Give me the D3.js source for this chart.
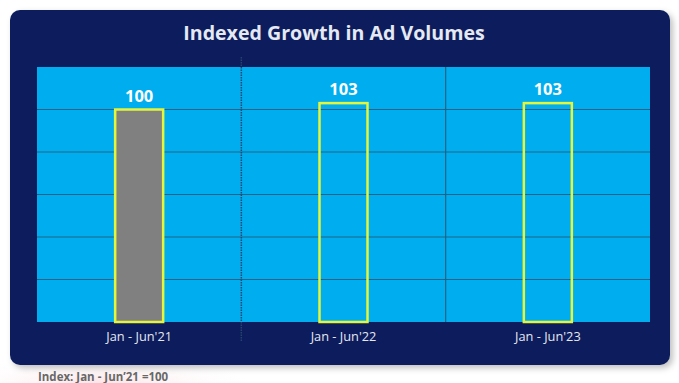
<!DOCTYPE html>
<html>
<head>
<meta charset="utf-8">
<script src="https://cdn.jsdelivr.net/npm/d3@7"></script>
<style>
  html, body { margin: 0; padding: 0; background: #ffffff; }
  svg { display: block; font-family: "Open Sans", sans-serif; }
</style>
</head>
<body>
<div id="chart"></div>
<script>
// data
const periods = ["Jan - Jun'21", "Jan - Jun'22", "Jan - Jun'23"];
const indexValues = [100, 103, 103];
const yTicks = [0, 20, 40, 60, 80, 100, 120];

const width = 679;
const height = 383;
const plot = { left: 37, right: 650, top: 67, bottom: 322 };

const svg = d3.select("#chart")
    .append("svg")
    .attr("width", width)
    .attr("height", height);

const defs = svg.append("defs");
const grad = defs.append("radialGradient").attr("id", "pink");
grad.append("stop").attr("offset", "0%").attr("stop-color", "#fbe1e4");
grad.append("stop").attr("offset", "100%").attr("stop-color", "#ffffff").attr("stop-opacity", 0);
const shadow = defs.append("filter").attr("id", "shadow")
    .attr("x", "-5%").attr("y", "-5%").attr("width", "110%").attr("height", "115%");
shadow.append("feDropShadow").attr("dx", 3).attr("dy", 3).attr("stdDeviation", 3)
    .attr("flood-color", "#000").attr("flood-opacity", 0.25);

// faint background blob
svg.append("ellipse")
    .attr("cx", 100).attr("cy", 385).attr("rx", 160).attr("ry", 30)
    .attr("fill", "url(#pink)");

// navy panel
svg.append("rect")
    .attr("x", 10).attr("y", 10)
    .attr("width", 660).attr("height", 355)
    .attr("rx", 10)
    .attr("fill", "#0a1f5c")
    .attr("filter", "url(#shadow)");

svg.append("text")
    .attr("x", 334).attr("y", 40)
    .attr("text-anchor", "middle")
    .attr("fill", "#e4e9f3")
    .attr("font-size", 19.6)
    .attr("font-weight", "bold")
    .text("Indexed Growth in Ad Volumes");

const x = d3.scaleBand()
    .domain(periods)
    .range([plot.left, plot.right])
    .padding(0);

const y = d3.scaleLinear()
    .domain([0, 120])
    .range([plot.bottom, plot.top]);

// plot area
svg.append("rect")
    .attr("x", plot.left).attr("y", plot.top)
    .attr("width", plot.right - plot.left)
    .attr("height", plot.bottom - plot.top)
    .attr("fill", "#00aeef");

// horizontal gridlines
svg.append("g")
    .selectAll("line")
    .data(yTicks.slice(1, -1))
    .join("line")
    .attr("x1", plot.left).attr("x2", plot.right)
    .attr("y1", d => y(d)).attr("y2", d => y(d))
    .attr("stroke", "#1f6285")
    .attr("stroke-width", 1.2);

// separators between periods
const seps = periods.slice(1).map(p => x(p));
svg.append("line")
    .attr("x1", seps[0]).attr("x2", seps[0])
    .attr("y1", 57).attr("y2", 341)
    .attr("stroke", "#27436f")
    .attr("stroke-width", 1.5)
    .attr("stroke-dasharray", "1.5,1");
svg.append("line")
    .attr("x1", seps[1]).attr("x2", seps[1])
    .attr("y1", plot.top).attr("y2", plot.bottom)
    .attr("stroke", "#1f6285")
    .attr("stroke-width", 1.2);

// bars
const barW = 48;
svg.append("g")
    .selectAll("rect")
    .data(indexValues)
    .join("rect")
    .attr("x", (d, i) => x(periods[i]) + x.bandwidth() / 2 - barW / 2)
    .attr("y", d => y(d))
    .attr("width", barW)
    .attr("height", d => plot.bottom - y(d))
    .attr("fill", (d, i) => i === 0 ? "#808080" : "none")
    .attr("stroke", "#e4f53c")
    .attr("stroke-width", 2.5);

// value labels
svg.append("g")
    .selectAll("text")
    .data(indexValues)
    .join("text")
    .attr("x", (d, i) => x(periods[i]) + x.bandwidth() / 2)
    .attr("y", d => y(d) - 8)
    .attr("text-anchor", "middle")
    .attr("fill", "#ffffff")
    .attr("font-size", 16.5)
    .attr("font-weight", "bold")
    .text(d => d);

// x axis labels
const xAxis = svg.append("g")
    .attr("transform", `translate(0,${plot.bottom})`)
    .call(d3.axisBottom(x).tickSize(0).tickPadding(10));
xAxis.select(".domain").remove();
xAxis.selectAll("text")
    .attr("fill", "#e3e8f2")
    .attr("font-size", 12.8)
    .attr("font-family", "'Open Sans', sans-serif");

// footnote
svg.append("text")
    .attr("x", 38).attr("y", 381)
    .attr("fill", "#686868")
    .attr("font-size", 11.5)
    .attr("font-weight", "bold")
    .text("Index: Jan - Jun\u201921 =100");
</script>
</body>
</html>
